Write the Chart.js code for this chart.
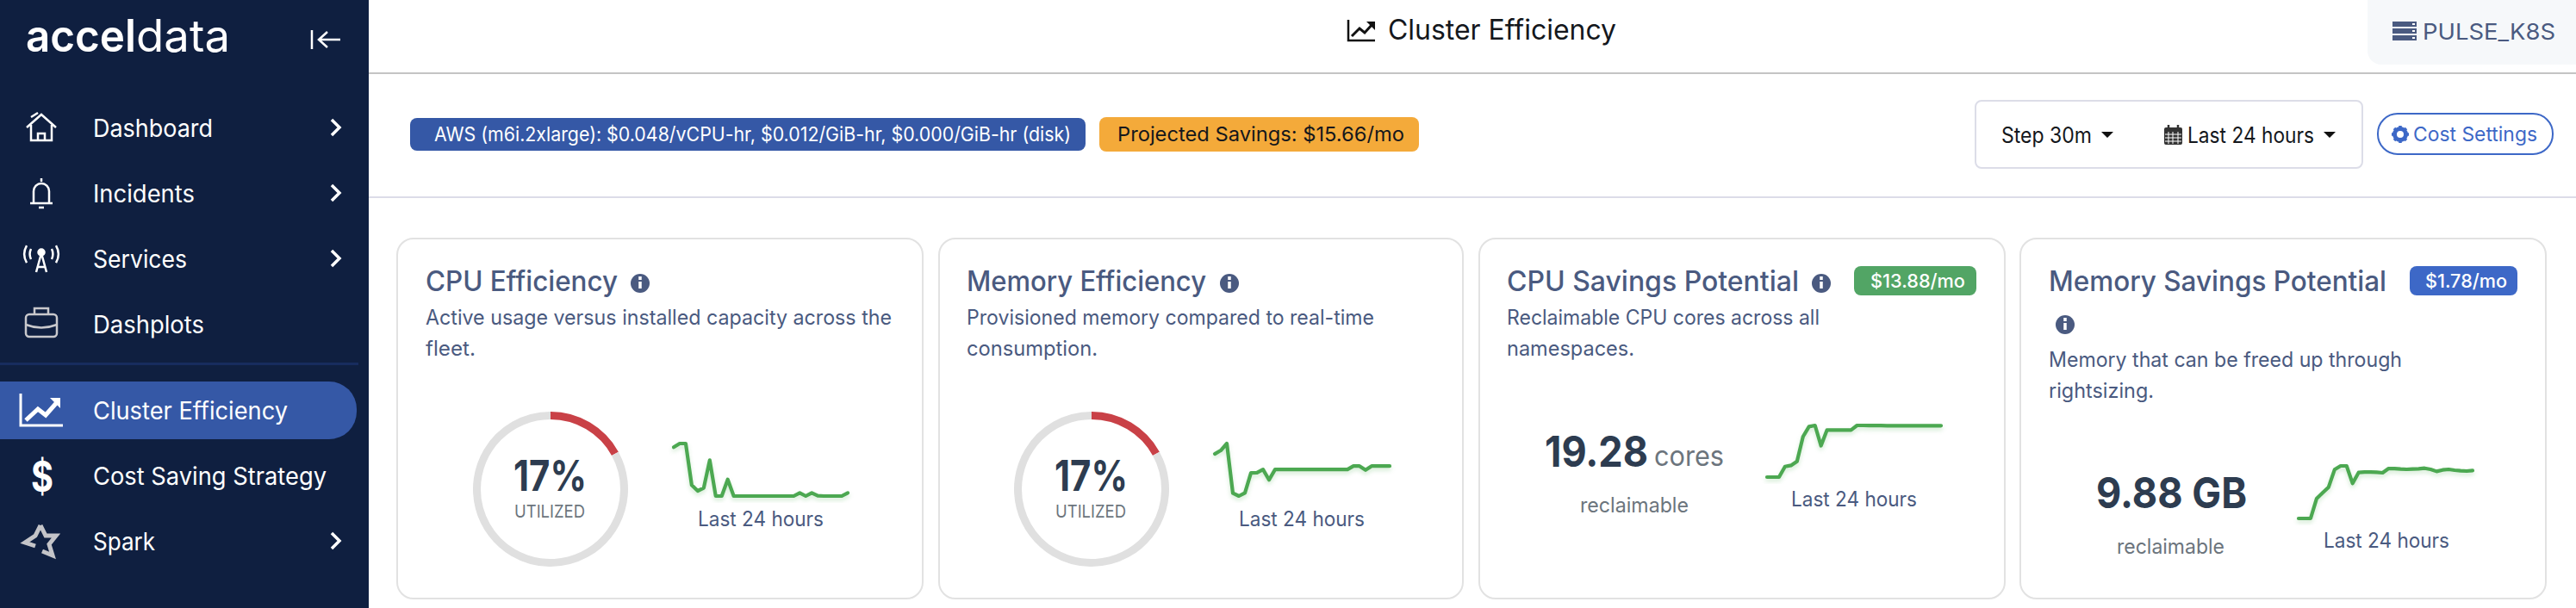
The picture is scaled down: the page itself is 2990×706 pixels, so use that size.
<!DOCTYPE html>
<html>
<head>
<meta charset="utf-8">
<title>Cluster Efficiency</title>
<script src="https://cdn.jsdelivr.net/npm/chart.js@4"></script>
<style>
  html, body { margin: 0; padding: 0; background: #fff; width: 2990px; height: 706px; overflow: hidden; font-family: Inter, sans-serif; }
  #page { position: relative; width: 2990px; height: 706px; overflow: hidden; }
  .box { position: absolute; box-sizing: border-box; }
  .txt { position: absolute; white-space: nowrap; line-height: 1; transform-origin: left center; }
  canvas { position: absolute; }
  svg#icons { position: absolute; left: 0; top: 0; }
</style>
</head>
<body>
<div id="page">
  <div class="box" style="left:0;top:0;width:428px;height:706px;background:#0f1f40"></div>
  <div class="box" style="left:0;top:421px;width:416px;height:3px;background:#172c5e"></div>
  <div class="box" style="left:0;top:443px;width:414px;height:67px;background:#3558a6;border-radius:0 32px 32px 0"></div>
  <div class="box" style="left:428px;top:84px;width:2562px;height:2px;background:#c4c4c4"></div>
  <div class="box" style="left:428px;top:228px;width:2562px;height:2px;background:#dcdce8"></div>
  <div class="box" style="left:2748px;top:0;width:242px;height:75px;background:#f6f8fa;border-radius:0 0 0 16px"></div>
  <div class="box" style="left:476px;top:137px;width:784px;height:38px;background:#3558a6;border-radius:8px"></div>
  <div class="box" style="left:1276px;top:136px;width:371px;height:40px;background:#f4aa3a;border-radius:8px"></div>
  <div class="box" style="left:2292px;top:116px;width:451px;height:80px;border:2px solid #dcdde8;border-radius:8px"></div>
  <div class="box" style="left:2759px;top:131px;width:205px;height:49px;border:2px solid #3d68c7;border-radius:24px"></div>
  <div class="box" style="left:460px;top:276px;width:612px;height:420px;border:2px solid #e2e2e2;border-radius:20px"></div>
  <div class="box" style="left:1089px;top:276px;width:610px;height:420px;border:2px solid #e2e2e2;border-radius:20px"></div>
  <div class="box" style="left:1716px;top:276px;width:612px;height:420px;border:2px solid #e2e2e2;border-radius:20px"></div>
  <div class="box" style="left:2344px;top:276px;width:612px;height:420px;border:2px solid #e2e2e2;border-radius:20px"></div>
  <div class="box" style="left:2152px;top:309px;width:142px;height:34px;background:#52a565;border-radius:8px"></div>
  <div class="box" style="left:2797px;top:309px;width:125px;height:34px;background:#3d68c7;border-radius:8px"></div>

  <svg id="icons" width="2990" height="706" fill="none" stroke="#fff" stroke-width="2.5">
    <!-- collapse arrow -->
    <path d="M362 35V57M395 46H370M380 37l-10 9 10 9"/>
    <!-- chevrons -->
    <path stroke-width="3.5" d="M385 139l9 9-9 9M385 215l9 9-9 9M385 291l9 9-9 9M385 619l9 9-9 9"/>
    <!-- house -->
    <path d="M31 148l17-15 17 15M36 145V163H60V145M44 163V155H52V163M36 136l8-5"/>
    <!-- bell -->
    <path d="M35 236H61M39 236V222a9 9 0 0 1 18 0V236M45 241H51M48 207v4"/>
    <!-- antenna -->
    <path d="M48 294L42 316M48 294L54 316M43 310H53M36 289a14 14 0 0 0 0 12M60 289a14 14 0 0 1 0 12M31 285a20 20 0 0 0 0 20M65 285a20 20 0 0 1 0 20"/>
    <circle cx="48" cy="293" r="3.5" fill="#fff"/>
    <!-- briefcase -->
    <rect x="30" y="365" width="36" height="26" rx="4" stroke="#c8c8cc"/>
    <path stroke="#c8c8cc" d="M40 365V358H56V365M30 377Q48 384 66 377"/>
    <!-- trend -->
    <path d="M24 457V494H73" stroke-width="3"/>
    <path d="M30 488L44 475L53 482L68 465" stroke-width="5"/>
    <path d="M58 462H70V474" fill="#fff" stroke="none"/>
    <!-- star -->
    <path stroke="#c4c4c8" stroke-width="5" d="M47 610L53 622L65 622L57 632L61 645L49 640M47 610L41 622L29 630L41 634"/>
    <!-- title trend -->
    <path stroke="#111" d="M1565 23V47H1596"/>
    <path stroke="#111" stroke-width="3" d="M1569 42L1578 33L1584 38L1593 28"/>
    <path fill="#111" stroke="none" d="M1586 25H1596V35Z"/>
    <!-- server icon -->
    <g fill="#4a5a80" stroke="none">
      <rect x="2777" y="25" width="28" height="6"/><rect x="2777" y="33" width="28" height="6"/><rect x="2777" y="41" width="28" height="6"/>
      <rect x="2800" y="27" width="3" height="2" fill="#fff"/><rect x="2800" y="35" width="3" height="2" fill="#fff"/><rect x="2800" y="43" width="3" height="2" fill="#fff"/>
    </g>
    <!-- carets -->
    <path fill="#111" stroke="none" d="M2439 153H2453L2446 160ZM2697 153H2711L2704 160Z"/>
    <!-- calendar -->
    <rect x="2512" y="148" width="21" height="20" rx="2" fill="#333" stroke="none"/>
    <path stroke="#fff" stroke-width="1" d="M2513 156H2532M2513 160H2532M2513 164H2532M2517 153V167M2522 153V167M2528 153V167"/>
    <path stroke="#333" d="M2517 145V150M2528 145V150"/>
    <!-- gear -->
    <circle cx="2786" cy="156" r="6.5" stroke="#3d68c7" stroke-width="5"/>
    <path stroke="#3d68c7" stroke-width="3.5" d="M2786 146V150M2786 162V166M2776 156H2780M2792 156H2796M2779 149l3 3M2790 160l3 3M2793 149l-3 3M2782 160l-3 3"/>
    <!-- info icons -->
    <g fill="#4a5a80" stroke="none">
      <circle cx="743" cy="329" r="11"/><circle cx="1427" cy="329" r="11"/><circle cx="2114" cy="329" r="11"/><circle cx="2397" cy="377" r="11"/>
    </g>
    <g stroke="#fff" stroke-width="3.5">
      <path d="M743 327V335M743 321V325M1427 327V335M1427 321V325M2114 327V335M2114 321V325M2397 375V383M2397 369V373"/>
    </g>
  </svg>
  <div id="labels"></div>

  <canvas id="gaugeCpu"></canvas>
  <canvas id="gaugeMem"></canvas>
  <canvas id="sparkCpu"></canvas>
  <canvas id="sparkMem"></canvas>
  <canvas id="sparkCores"></canvas>
  <canvas id="sparkGb"></canvas>
</div>

<script>
"use strict"
// values
const cpuUtil = [17, 83];
const memUtil = [17, 83];
const cpuEffSeries = [33, 34.3, 34.3, 19.8, 17.8, 18.8, 28.5, 16, 16, 21.8, 16, 16, 16, 16, 16, 16, 16, 16, 16, 16, 16, 17.1, 16, 17.1, 16.1, 16, 16, 16, 16, 17.1];
const memEffSeries = [30.6, 31.8, 34.2, 17, 16, 17.1, 24, 24.1, 25.2, 21.6, 25.2, 25.2, 25.2, 25.2, 25.2, 25.2, 25.2, 25.2, 25.2, 25.2, 25.2, 25.2, 25.2, 26.4, 26.4, 25, 26.4, 26.4, 26.4, 26.4];
const coresSeries = [0, 0, 0, 3.96, 4.39, 5.89, 15.2, 18.96, 19.39, 11.78, 17.67, 17.67, 17.67, 17.67, 17.67, 19.39, 19.39, 19.36, 19.33, 19.33, 19.3, 19.3, 19.3, 19.3, 19.3, 19.3, 19.3, 19.3, 19.28, 19.28];
const gbSeries = [0, 0, 0, 4.08, 5.27, 6.45, 10.06, 10.83, 10.83, 7.22, 9.47, 9.58, 9.58, 9.52, 9.41, 10.29, 10.29, 10.18, 10.12, 10.18, 10.24, 10.35, 10.12, 9.7, 10, 10.12, 9.94, 9.82, 9.76, 9.88];
const stepLabels = cpuEffSeries.map((_, i) => i);

const NAVY = '#4a5a80', DARK = '#2d3c50', GREY = '#6c757d', INK = '#14171c';

// text: string, left, vertical centre, target width, font size, colour, weight
const labelRows = [
  ['accel', 30, 42, 128, 52, '#fff', 600], ['data', 158, 42, 109, 52, '#fff', 400],
  ['Dashboard', 108, 149, 139, 28, '#fff', 400], ['Incidents', 108, 225, 118, 28, '#fff', 400],
  ['Services', 108, 301, 109, 28, '#fff', 400], ['Dashplots', 108, 377, 129, 28, '#fff', 400],
  ['Cluster Efficiency', 108, 477, 226, 28, '#fff', 400], ['Cost Saving Strategy', 108, 553, 271, 28, '#fff', 400],
  ['Spark', 108, 629, 72, 28, '#fff', 400], ['$', 36, 553, 26, 50, '#fff', 700],
  ['Cluster Efficiency', 1611, 35, 265, 32, INK, 400], ['PULSE_K8S', 2812, 37, 154, 26, NAVY, 400],
  ['AWS (m6i.2xlarge): $0.048/vCPU-hr, $0.012/GiB-hr, $0.000/GiB-hr (disk)', 504, 156, 739, 23, '#fff', 400],
  ['Projected Savings: $15.66/mo', 1297, 156, 333, 23, INK, 400],
  ['Step 30m', 2323, 157, 105, 25, INK, 400], ['Last 24 hours', 2539, 157, 147, 25, INK, 400],
  ['Cost Settings', 2801, 156, 144, 23, '#3d68c7', 400],
  ['CPU Efficiency', 494, 327, 223, 32, NAVY, 500], ['Memory Efficiency', 1122, 327, 278, 32, NAVY, 500],
  ['CPU Savings Potential', 1749, 327, 339, 32, NAVY, 500], ['Memory Savings Potential', 2378, 327, 392, 32, NAVY, 500],
  ['Active usage versus installed capacity across the', 494, 369, 541, 24, NAVY, 400], ['fleet.', 494, 405, 58, 24, NAVY, 400],
  ['Provisioned memory compared to real-time', 1122, 369, 473, 24, NAVY, 400], ['consumption.', 1122, 405, 152, 24, NAVY, 400],
  ['Reclaimable CPU cores across all', 1749, 369, 363, 24, NAVY, 400], ['namespaces.', 1749, 405, 148, 24, NAVY, 400],
  ['Memory that can be freed up through', 2378, 418, 410, 24, NAVY, 400], ['rightsizing.', 2378, 454, 122, 24, NAVY, 400],
  ['$13.88/mo', 2171, 326, 110, 22, '#fff', 500], ['$1.78/mo', 2815, 326, 95, 22, '#fff', 500],
  ['17%', 596, 552, 85, 50, DARK, 700], ['UTILIZED', 597, 594, 82, 20, GREY, 400],
  ['17%', 1224, 552, 85, 50, DARK, 700], ['UTILIZED', 1225, 594, 82, 20, GREY, 400],
  ['Last 24 hours', 810, 603, 146, 24, NAVY, 400], ['Last 24 hours', 1438, 603, 146, 24, NAVY, 400],
  ['19.28', 1793, 524, 120, 50, DARK, 700], ['cores', 1920, 530, 81, 32, GREY, 400],
  ['reclaimable', 1834, 587, 126, 24, GREY, 400], ['Last 24 hours', 2079, 580, 146, 24, NAVY, 400],
  ['9.88 GB', 2433, 572, 175, 50, DARK, 700], ['reclaimable', 2457, 635, 125, 24, GREY, 400],
  ['Last 24 hours', 2697, 628, 146, 24, NAVY, 400],
];

const holder = document.getElementById('labels');
labelRows.forEach(([text, x, cy, w, size, color, weight]) => {
  const el = document.createElement('div');
  el.className = 'txt';
  el.textContent = text;
  el.style.cssText = `left:${x}px;top:${cy - size / 2}px;font-size:${size}px;color:${color};font-weight:${weight}`;
  holder.appendChild(el);
  const k = w / el.getBoundingClientRect().width;
  el.style.transform = `scaleX(${k})`;
});

function place(id, left, top, width, height) {
  const c = document.getElementById(id);
  c.width = width; c.height = height;
  c.style.left = left + 'px'; c.style.top = top + 'px';
  c.style.width = width + 'px'; c.style.height = height + 'px';
  return c;
}

function gauge(id, cx, cy, values) {
  new Chart(place(id, cx - 100, cy - 100, 200, 200), {
    type: 'doughnut',
    data: {
      labels: ['utilized', 'rest'],
      datasets: [{ data: values, backgroundColor: ['#c94147', '#e0e0e0'], borderWidth: 0 }]
    },
    options: {
      responsive: false,
      animation: false,
      cutout: '90%',
      layout: { padding: 10 },
      plugins: { legend: { display: false }, tooltip: { enabled: false } }
    }
  });
}

const softShadow = {
  id: 'softShadow',
  beforeDatasetsDraw(chart) {
    const { ctx } = chart;
    ctx.save();
    ctx.shadowColor = 'rgba(76,175,80,0.25)';
    ctx.shadowBlur = 5;
    ctx.shadowOffsetY = 3;
  },
  afterDatasetsDraw(chart) { chart.ctx.restore(); }
};

function spark(id, left, top, width, height, series) {
  const pad = 8;
  new Chart(place(id, left - pad, top - pad, width + pad * 2, height + pad * 2), {
    type: 'line',
    data: {
      labels: stepLabels,
      datasets: [{
        data: series,
        borderColor: '#4ca851',
        borderWidth: 4.2,
        pointRadius: 0,
        tension: 0,
        borderCapStyle: 'round',
        borderJoinStyle: 'round',
        clip: false
      }]
    },
    options: {
      responsive: false,
      animation: false,
      layout: { padding: pad },
      scales: {
        x: { display: false },
        y: { display: false, min: Math.min(...series), max: Math.max(...series) }
      },
      plugins: { legend: { display: false }, tooltip: { enabled: false } }
    },
    plugins: [softShadow]
  });
}

gauge('gaugeCpu', 639, 568, cpuUtil);
gauge('gaugeMem', 1267, 568, memUtil);
spark('sparkCpu', 782, 515, 202, 61, cpuEffSeries);
spark('sparkMem', 1410, 515, 203, 61, memEffSeries);
spark('sparkCores', 2051, 494, 202, 60, coresSeries);
spark('sparkGb', 2668, 541, 202, 61, gbSeries);
</script>
</body>
</html>
